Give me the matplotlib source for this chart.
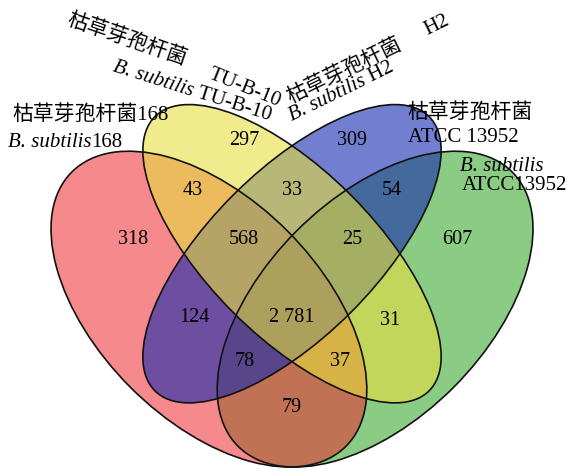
import numpy as np
import matplotlib.pyplot as plt
from matplotlib.patches import Ellipse
from matplotlib.transforms import offset_copy

plt.rcParams['font.family'] = ['Liberation Serif', 'Noto Sans CJK SC']

# region counts, keyed by membership in (168, TU-B-10, H2, ATCC13952)
regions = ['1000', '0100', '0010', '0001',
           '1100', '0110', '0011',
           '1110', '0111', '1010', '1111', '0101',
           '1011', '1101', '1001']
counts = [318, 297, 309, 607,
          43, 33, 54,
          568, 25, 124, 2781, 31,
          78, 37, 79]

# label positions for each region (unit square of the quad venn)
label_x = [0.213, 0.413, 0.609, 0.798,
           0.321, 0.500, 0.680,
           0.413, 0.608, 0.324, 0.500, 0.677,
           0.415, 0.587, 0.500]
label_y = [0.595, 0.775, 0.775, 0.595,
           0.685, 0.685, 0.685,
           0.595, 0.595, 0.454, 0.454, 0.450,
           0.376, 0.376, 0.293]

# ellipses: centre, semi axes, angle, colour, alpha -- drawn in this order
shapes = {
    'green':  ((0.65, 0.47), 0.35, 0.20, 45, (60/255, 170/255, 50/255), 0.6),
    'red':    ((0.35, 0.47), 0.35, 0.20, -45, (240/255, 40/255, 45/255), 0.55),
    'blue':   ((0.50, 0.57), 0.35, 0.15, 45, (20/255, 40/255, 175/255), 0.6),
    'yellow': ((0.50, 0.57), 0.35, 0.15, -45, (230/255, 222/255, 63/255), 0.6),
}

fig = plt.figure(figsize=(5.69, 4.69), dpi=100)
ax = fig.add_axes([0, 0, 1, 1])
ax.set_xlim(-0.0271, 1.0)
ax.set_ylim(0.1814, 1.028)
ax.axis('off')

for name, (c, a, b, ang, col, al) in shapes.items():
    ax.add_patch(Ellipse(c, 2 * a, 2 * b, angle=ang, facecolor=col,
                         alpha=al, edgecolor='none'))
for name, (c, a, b, ang, col, al) in shapes.items():
    ax.add_patch(Ellipse(c, 2 * a, 2 * b, angle=ang, facecolor='none',
                         edgecolor='#111111', linewidth=1.2))

for x, y, n in zip(label_x, label_y, counts):
    txt = f'{n:,}'.replace(',', ' ')
    ax.text(x, y, txt, ha='center', va='center', fontsize=14.5)

fs = 15
renderer = fig.canvas.get_renderer()


def label(x, y, parts, rot=0):
    # write a run of (text, style) pieces along one baseline
    adv = 0.0
    for s, style in parts:
        tr = offset_copy(ax.transData, fig=fig,
                         x=adv * np.cos(np.radians(rot)),
                         y=adv * np.sin(np.radians(rot)), units='points')
        ax.text(x, y, s, fontsize=fs, style=style, ha='left', va='baseline',
                rotation=rot, rotation_mode='anchor', transform=tr)
        tmp = ax.text(0, 0, s, fontsize=fs, style=style)
        adv += tmp.get_window_extent(renderer).width * 72 / fig.dpi
        tmp.remove()


bs = ('B. subtilis', 'italic')
# 168
label(-0.005, 0.811, [('枯草芽孢杆菌168', 'normal')])
label(-0.013, 0.763, [bs, ('168', 'normal')])
# ATCC 13952
label(0.709, 0.815, [('枯草芽孢杆菌', 'normal')])
label(0.709, 0.772, [('ATCC 13952', 'normal')])
label(0.803, 0.719, [bs])
label(0.807, 0.685, [('ATCC13952', 'normal')])
# TU-B-10, slanted down
label(0.092, 0.985, [('枯草芽孢杆菌', 'normal')], rot=-19)
label(0.347, 0.888, [('TU-B-10', 'normal')], rot=-22)
label(0.175, 0.900, [bs, (' TU-B-10', 'normal')], rot=-17.5)
# H2, slanted up
label(0.498, 0.842, [('枯草芽孢杆菌', 'normal')], rot=26)
label(0.745, 0.965, [('H2', 'normal')], rot=26)
label(0.500, 0.810, [bs, (' H2', 'normal')], rot=26)

fig.savefig('out.png', dpi=100)
